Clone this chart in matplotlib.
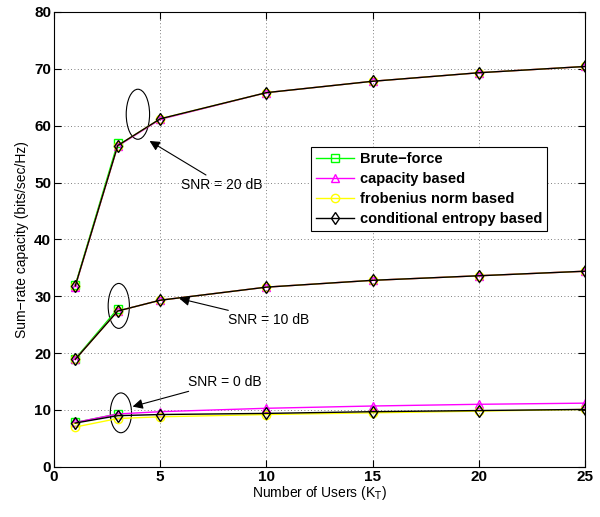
import matplotlib.pyplot as plt
import numpy as np
from matplotlib.patches import Ellipse

plt.rcParams['font.family'] = ['Liberation Sans', 'DejaVu Sans']

# number of users
users = [1, 3, 5, 10, 15, 20, 25]
users_bf = [1, 3]

# SNR = 20 dB
bf_20 = [31.9, 57.0]
cap_20 = [31.7, 56.4, 61.1, 65.8, 67.8, 69.3, 70.4]
frob_20 = [31.8, 56.5, 61.2, 65.8, 67.8, 69.3, 70.4]
ce_20 = [31.8, 56.5, 61.2, 65.8, 67.8, 69.3, 70.4]

# SNR = 10 dB
bf_10 = [19.0, 27.8]
cap_10 = [18.9, 27.4, 29.3, 31.6, 32.8, 33.6, 34.4]
frob_10 = [18.9, 27.4, 29.3, 31.6, 32.8, 33.6, 34.4]
ce_10 = [18.9, 27.4, 29.3, 31.6, 32.8, 33.6, 34.4]

# SNR = 0 dB
bf_0 = [7.8, 9.3]
cap_0 = [7.8, 9.3, 9.7, 10.3, 10.7, 11.0, 11.2]
frob_0 = [7.0, 8.5, 8.8, 9.2, 9.5, 9.8, 10.1]
ce_0 = [7.7, 9.0, 9.2, 9.4, 9.7, 9.9, 10.1]

fig = plt.figure(figsize=(6, 5.17), dpi=100)
ax = fig.add_axes([0.09, 0.097, 0.885, 0.88])

mk = dict(markersize=6, markerfacecolor='none', linewidth=1)
first = True
for bf, cap, frob, ce in [(bf_20, cap_20, frob_20, ce_20),
                          (bf_10, cap_10, frob_10, ce_10),
                          (bf_0, cap_0, frob_0, ce_0)]:
    ax.plot(users_bf, bf, color='#00ff00', marker='s', label='Brute\u2212force' if first else None, **mk)
    ax.plot(users, cap, color='#ff00ff', marker='^', label='capacity based' if first else None, **mk)
    ax.plot(users, frob, color='#ffff00', marker='o', label='frobenius norm based' if first else None, **mk)
    ax.plot(users, ce, color='black', marker='d', label='conditional entropy based' if first else None, **mk)
    first = False

# ellipses around the K=3 points
ax.add_patch(Ellipse((3.95, 62.0), 1.1, 8.8, fill=False, edgecolor='black', linewidth=0.8))
ax.add_patch(Ellipse((3.05, 28.3), 1.0, 7.9, fill=False, edgecolor='black', linewidth=0.8))
ax.add_patch(Ellipse((3.15, 9.5), 1.0, 7.0, fill=False, edgecolor='black', linewidth=0.8))

arr = dict(arrowstyle='-|>', color='black', linewidth=0.8, mutation_scale=15, shrinkA=0, shrinkB=0)
ax.annotate('SNR = 20 dB', xy=(4.5, 57.3), xytext=(6.0, 49.6), fontsize=10,
            va='center', arrowprops=arr)
ax.annotate('SNR = 10 dB', xy=(5.9, 29.6), xytext=(8.2, 25.8), fontsize=10,
            va='center', arrowprops=arr)
ax.annotate('SNR = 0 dB', xy=(3.7, 10.6), xytext=(6.3, 15.0), fontsize=10,
            va='center', arrowprops=arr)

ax.set_xlim(0, 25)
ax.set_ylim(0, 80)
ax.set_xticks(np.arange(0, 26, 5))
ax.set_yticks(np.arange(0, 81, 10))
for lab in ax.get_xticklabels() + ax.get_yticklabels():
    lab.set_fontweight('bold')
    lab.set_fontsize(11)
ax.tick_params(direction='in', top=True, right=True, length=5, pad=2)
ax.grid(True, linestyle=(0, (1, 3)), color='#555555', linewidth=0.6)
ax.set_xlabel('Number of Users (K$_\\mathrm{T}$)', fontsize=10, labelpad=0)
ax.set_ylabel('Sum\u2212rate capacity (bits/sec/Hz)', fontsize=10, labelpad=4)

leg = ax.legend(loc='upper left', bbox_to_anchor=(0.47, 0.72), fancybox=False,
                edgecolor='black', framealpha=1, prop={'weight': 'bold', 'size': 10.5},
                handlelength=2.6, borderpad=0.35, labelspacing=0.42, handletextpad=0.4)
leg.get_frame().set_linewidth(0.8)

fig.savefig('out.png', dpi=100)
